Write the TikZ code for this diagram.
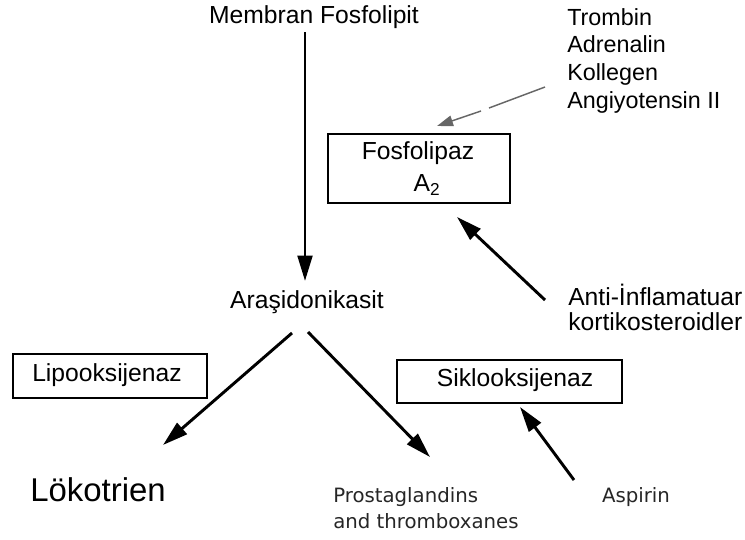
\documentclass[tikz,border=0pt]{standalone}
\usepackage{fontspec}
\setmainfont{Liberation Sans}
\newfontfamily\smallfam{DejaVu Sans}
\usetikzlibrary{arrows.meta,positioning}

\begin{document}
\begin{tikzpicture}[
    x=0.75pt, y=-0.75pt,
    box/.style={draw, rectangle, line width=2pt, inner sep=0pt, align=center,
        font=\fontsize{18.5}{23.5}\selectfont},
    lbl/.style={font=\fontsize{18.5}{18.75}\selectfont, inner sep=0pt},
    small/.style={font=\smallfam\fontsize{14.8}{20}\selectfont, text=black!85,
        inner sep=0pt, align=left},
    arrow/.style={line width=2.2pt, -{Triangle[length=19pt, width=11pt]}},
    thin/.style={line width=1.1pt, -{Triangle[length=12pt, width=8pt]}},
]
\useasboundingbox (0,0) rectangle (745,539);

% Top source
\node[lbl] (membran) at (314, 17) {Membran Fosfolipit};

% Activators
\node[lbl, anchor=north west, align=left, font=\fontsize{17.5}{20.8}\selectfont] (act) at (567, 8)
    {Trombin\\Adrenalin\\Kollegen\\Angiyotensin II};

% Phospholipase
\node[box, minimum width=182pt*0.75, minimum height=69pt*0.75] (pla) at (419, 168.5) {};
\node[lbl] (planame) at (418, 153) {Fosfolipaz};
\node[lbl] (plasub) at (427, 185) {A\textsubscript{2}};

% Arachidonic acid
\node[lbl] (ara) at (307, 302) {Araşidonikasit};

% Inhibitors
\node[lbl, anchor=north west, align=left] (anti) at (568, 284)
    {Anti-İnflamatuar\\kortikosteroidler};

% Enzymes
\node[box, minimum width=194pt*0.75, minimum height=44pt*0.75] (lox) at (110, 376) {};
\node[lbl] (loxname) at (107, 375) {Lipooksijenaz};
\node[box, minimum width=225pt*0.75, minimum height=43pt*0.75] (cox) at (509.5, 381.5) {};
\node[lbl] (coxname) at (515, 380) {Siklooksijenaz};

% Products
\node[inner sep=0pt, anchor=west, font=\fontsize{24.7}{26}\selectfont] (lt) at (30, 490) {Lökotrien};
\node[small, anchor=north west] (pg) at (333, 487) {Prostaglandins\\and thromboxanes};
\node[small] (asp) at (636, 497) {Aspirin};

% Coordinates for arrows
\coordinate (tr) at (545, 87);
\coordinate (gap1) at (489, 108);
\coordinate (gap2) at (481, 111);
\coordinate (ara1) at (292, 333);
\coordinate (ara2) at (308, 332);
\coordinate (asptail) at (574, 480);

% Arrows
\draw[arrow] (305, 32) -- (305, 281);
\draw[line width=1.1pt, black!60] (tr) -- (gap1);
\draw[thin, black!60] (gap2) -- (437, 126);
\draw[arrow] (545, 300) -- (457, 217);
\draw[arrow] (ara1) -- (163, 445);
\draw[arrow] (ara2) -- (430, 457);
\draw[arrow] (asptail) -- (520, 407);

\end{tikzpicture}
\end{document}
